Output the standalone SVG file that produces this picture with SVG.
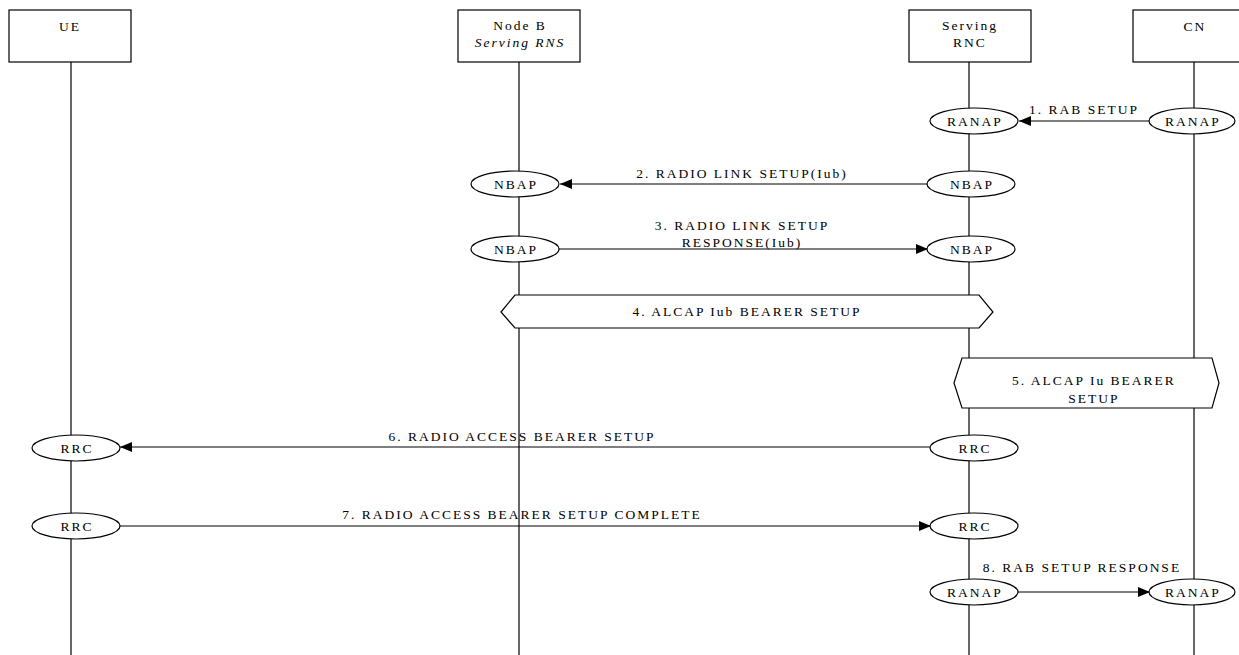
<svg xmlns="http://www.w3.org/2000/svg" width="1239" height="655" viewBox="0 0 1239 655">
<style>
text{font-family:"Liberation Serif","Times New Roman",serif;font-size:13.5px;letter-spacing:2px;fill:#000;text-anchor:middle}
.it{font-style:italic}
.box{fill:#fff;stroke:#000;stroke-width:1.2}
.life{stroke:#000;stroke-width:1.2}
.el{fill:#fff;stroke:#000;stroke-width:1.2}
.hex{fill:#fff;stroke:#000;stroke-width:1.2}
.msg{stroke:#000;stroke-width:1.2;fill:none;marker-end:url(#ah)}
</style>
<defs>
<marker id="ah" markerUnits="userSpaceOnUse" markerWidth="13" markerHeight="11" refX="12" refY="5.5" orient="auto">
<path d="M0,0.5 L12,5.5 L0,10.5 z" fill="#000"/>
</marker>
</defs>
<rect width="1239" height="655" fill="#fff"/>
<g id="lifelines">
<line class="life" x1="71" y1="62" x2="71" y2="655"/>
<line class="life" x1="519" y1="62" x2="519" y2="655"/>
<line class="life" x1="969" y1="62" x2="969" y2="655"/>
<line class="life" x1="1194" y1="62" x2="1194" y2="655"/>
</g>
<g id="ue"><rect class="box" x="9" y="10" width="122" height="52"/><text x="70" y="31">UE</text></g>
<g id="nodeb"><rect class="box" x="458" y="10" width="122" height="52"/><text x="520" y="30">Node B</text><text class="it" x="520" y="47">Serving RNS</text></g>
<g id="srnc"><rect class="box" x="909" y="10" width="122" height="52"/><text x="970" y="30">Serving</text><text x="970" y="47">RNC</text></g>
<g id="cn"><rect class="box" x="1133" y="10" width="122" height="52"/><text x="1195" y="31">CN</text></g>

<g id="hex4"><polygon class="hex" points="501,312 515,295 979,295 993,312 979,328 515,328"/><text x="747" y="316">4. ALCAP Iub BEARER SETUP</text></g>
<g id="hex5"><polygon class="hex" points="954,383 962,358 1212,358 1219,383 1212,408 962,408"/><text x="1094" y="385">5. ALCAP Iu BEARER</text><text x="1094" y="403">SETUP</text></g>

<g id="connectors">
<line class="msg" x1="1150" y1="121" x2="1019" y2="121"/>
<line class="msg" x1="927" y1="184" x2="560" y2="184"/>
<line class="msg" x1="553" y1="249" x2="928" y2="249"/>
<line class="msg" x1="930" y1="447" x2="120" y2="447"/>
<line class="msg" x1="114" y1="526" x2="931" y2="526"/>
<line class="msg" x1="1012" y1="592" x2="1150" y2="592"/>
<text x="1084" y="114">1. RAB SETUP</text>
<text x="742" y="178">2. RADIO LINK SETUP(Iub)</text>
<text x="742" y="230">3. RADIO LINK SETUP</text>
<text x="742" y="247">RESPONSE(Iub)</text>
<text x="522" y="441">6. RADIO ACCESS BEARER SETUP</text>
<text x="522" y="519">7. RADIO ACCESS BEARER SETUP COMPLETE</text>
<text x="1082" y="572">8. RAB SETUP RESPONSE</text>
</g>

<g id="ranap1"><ellipse class="el" cx="974" cy="121" rx="44" ry="13"/><text x="975" y="126">RANAP</text></g>
<g id="ranap2"><ellipse class="el" cx="1192" cy="121" rx="43" ry="13"/><text x="1193" y="126">RANAP</text></g>
<g id="nbap1"><ellipse class="el" cx="515" cy="184" rx="44" ry="13"/><text x="516" y="189">NBAP</text></g>
<g id="nbap2"><ellipse class="el" cx="971" cy="184" rx="44" ry="13"/><text x="972" y="189">NBAP</text></g>
<g id="nbap3"><ellipse class="el" cx="515" cy="249" rx="44" ry="13"/><text x="516" y="254">NBAP</text></g>
<g id="nbap4"><ellipse class="el" cx="971" cy="249" rx="44" ry="13"/><text x="972" y="254">NBAP</text></g>
<g id="rrc1"><ellipse class="el" cx="76" cy="448" rx="44" ry="13"/><text x="77" y="453">RRC</text></g>
<g id="rrc2"><ellipse class="el" cx="974" cy="448" rx="44" ry="13"/><text x="975" y="453">RRC</text></g>
<g id="rrc3"><ellipse class="el" cx="76" cy="526" rx="44" ry="13"/><text x="77" y="531">RRC</text></g>
<g id="rrc4"><ellipse class="el" cx="974" cy="526" rx="44" ry="13"/><text x="975" y="531">RRC</text></g>
<g id="ranap3"><ellipse class="el" cx="974" cy="592" rx="44" ry="13"/><text x="975" y="597">RANAP</text></g>
<g id="ranap4"><ellipse class="el" cx="1192" cy="592" rx="43" ry="13"/><text x="1193" y="597">RANAP</text></g>
</svg>
